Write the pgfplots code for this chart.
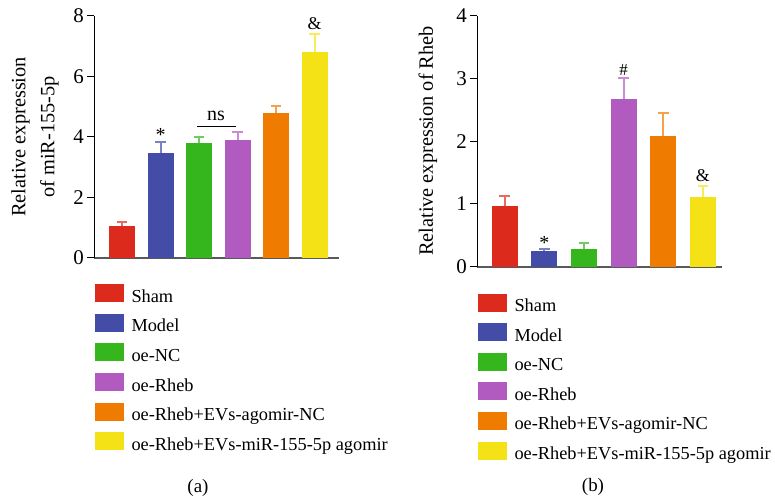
\documentclass[border=0pt]{standalone}
\usepackage{fontspec}
\setmainfont{Liberation Serif}
\usepackage{pgfplots}
\pgfplotsset{compat=1.18}
\definecolor{cRed}{HTML}{DC2B1C}
\definecolor{cBlue}{HTML}{434CA6}
\definecolor{cGreen}{HTML}{34B61C}
\definecolor{cPurple}{HTML}{B15BC0}
\definecolor{cOrange}{HTML}{EF7B00}
\definecolor{cYellow}{HTML}{F5E216}
\pgfplotsset{
  swatch/.style={legend image code/.code={\fill[#1] (0bp,0bp) rectangle (29bp,18bp);}},
  errb/.style={error bars/.cd, y dir=plus, y explicit,
    error bar style={line width=2bp, #1},
    error mark options={rotate=90, mark size=5.3bp, line width=2bp, #1}},
  panel/.style={
    scale only axis, axis lines=left, axis line style={-},
    x axis line style={draw=black!65, line width=2bp},
    y axis line style={black, line width=1bp},
    xtick=\empty, tick align=outside, major tick length=7bp,
    ytick style={black, line width=1bp},
    yticklabel style={font=\fontsize{21}{21}\selectfont, /pgf/number format/assume math mode=true},
    ybar, bar shift=0pt, bar width=26bp, clip=false, enlargelimits=false,
    legend style={draw=none, fill=none, anchor=north west, inner sep=0pt,
      font=\fontsize{18.4}{22}\selectfont, row sep=11.6bp, column sep=8bp,
      cells={anchor=base west},
      nodes={inner sep=0pt, text depth=0pt}},
  }
}
\begin{document}
\begin{tikzpicture}
\useasboundingbox (0,0) rectangle (775bp,502bp);
% ---------------- panel (a)
\begin{axis}[panel, at={(94.3bp,244.3bp)}, anchor=south west,
  width=244.7bp, height=242bp, xmin=-0.72, xmax=5.63, ymin=0, ymax=8,
  ytick={0,2,4,6,8}, legend style={at={(0,-0.109)}}]
\addplot[fill=cRed, draw=none, swatch=cRed, errb=cRed!70!white] coordinates {(0,1.05) +- (0,0.12)};
\addlegendentry{Sham}
\addplot[fill=cBlue, draw=none, swatch=cBlue, errb=cBlue!70!white] coordinates {(1,3.46) +- (0,0.38)};
\addlegendentry{Model}
\addplot[fill=cGreen, draw=none, swatch=cGreen, errb=cGreen!70!white] coordinates {(2,3.79) +- (0,0.20)};
\addlegendentry{oe-NC}
\addplot[fill=cPurple, draw=none, swatch=cPurple, errb=cPurple!70!white] coordinates {(3,3.89) +- (0,0.27)};
\addlegendentry{oe-Rheb}
\addplot[fill=cOrange, draw=none, swatch=cOrange, errb=cOrange!70!white] coordinates {(4,4.78) +- (0,0.22)};
\addlegendentry{oe-Rheb+EVs-agomir-NC}
\addplot[fill=cYellow, draw=none, swatch=cYellow, errb=cYellow!70!white] coordinates {(5,6.80) +- (0,0.58)};
\addlegendentry{oe-Rheb+EVs-miR-155-5p agomir}
\node[anchor=base, font=\fontsize{20}{20}\selectfont] at (axis cs:1,3.83) {*};
\draw[line width=1.5bp] (axis cs:1.94,4.34) -- (axis cs:2.95,4.34);
\node[anchor=base, font=\fontsize{20}{20}\selectfont] at (axis cs:2.44,4.55) {ns};
\node[anchor=base, font=\fontsize{18}{18}\selectfont] at (axis cs:5,7.55) {\&};
\end{axis}
% ---------------- panel (b)
\begin{axis}[panel, at={(477.3bp,235.3bp)}, anchor=south west,
  width=245bp, height=251bp, xmin=-0.69, xmax=5.49, ymin=0, ymax=4,
  ytick={0,1,2,3,4}, legend style={at={(0,-0.106)}}]
\addplot[fill=cRed, draw=none, swatch=cRed, errb=cRed!70!white] coordinates {(0,0.96) +- (0,0.16)};
\addlegendentry{Sham}
\addplot[fill=cBlue, draw=none, swatch=cBlue, errb=cBlue!70!white] coordinates {(1,0.25) +- (0,0.04)};
\addlegendentry{Model}
\addplot[fill=cGreen, draw=none, swatch=cGreen, errb=cGreen!70!white] coordinates {(2,0.29) +- (0,0.09)};
\addlegendentry{oe-NC}
\addplot[fill=cPurple, draw=none, swatch=cPurple, errb=cPurple!70!white] coordinates {(3,2.67) +- (0,0.33)};
\addlegendentry{oe-Rheb}
\addplot[fill=cOrange, draw=none, swatch=cOrange, errb=cOrange!70!white] coordinates {(4,2.08) +- (0,0.37)};
\addlegendentry{oe-Rheb+EVs-agomir-NC}
\addplot[fill=cYellow, draw=none, swatch=cYellow, errb=cYellow!70!white] coordinates {(5,1.11) +- (0,0.18)};
\addlegendentry{oe-Rheb+EVs-miR-155-5p agomir}
\node[anchor=base, font=\fontsize{20}{20}\selectfont] at (axis cs:1,0.27) {*};
\node[anchor=base, font=\fontsize{17}{17}\selectfont] at (axis cs:3,3.04) {\#};
\node[anchor=base, font=\fontsize{18}{18}\selectfont] at (axis cs:5,1.35) {\&};
\end{axis}
% axis titles and panel labels
\node[rotate=90, align=center, font=\fontsize{20.4}{29}\selectfont] at (35bp,365bp) {Relative expression\\of miR-155-5p};
\node[rotate=90, font=\fontsize{20.4}{24}\selectfont] at (428bp,361bp) {Relative expression of Rheb};
\node[font=\fontsize{19}{19}\selectfont] at (198bp,14bp) {(a)};
\node[font=\fontsize{19}{19}\selectfont] at (593bp,15bp) {(b)};
\end{tikzpicture}
\end{document}
